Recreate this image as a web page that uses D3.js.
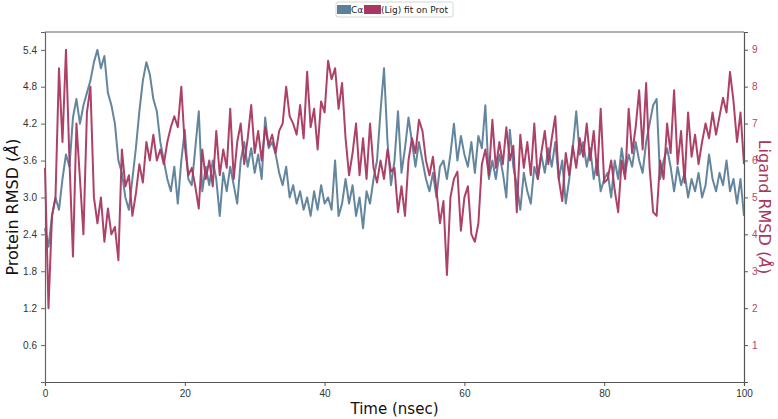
<!DOCTYPE html>
<html>
<head>
<meta charset="utf-8">
<script src="https://cdn.jsdelivr.net/npm/d3@7"></script>
<style>
  html, body { margin: 0; padding: 0; background: #fff; }
  svg { display: block; font-family: "DejaVu Sans", sans-serif; }
</style>
</head>
<body>
<svg id="chart" width="778" height="419"></svg>
<script>
// ── Data (one sample every 0.5 ns) ───────────────────────────────────────────
const timeStep = 0.5;

const proteinRmsd = [
  2.5,2.2,2.7,3.0,2.8,3.3,3.7,3.5,4.3,4.6,4.2,4.5,4.7,4.9,5.2,5.4,5.1,5.3,4.7,4.5,
  4.2,3.6,3.4,3.0,2.8,3.3,3.8,4.4,4.9,5.2,5.0,4.6,4.4,3.9,3.6,3.3,3.1,3.5,2.9,3.6,4.1,
  3.3,3.2,3.8,4.4,3.1,3.5,3.2,3.6,3.3,2.7,3.4,3.1,3.5,3.2,2.9,3.6,3.9,3.5,3.8,3.4,
  3.7,3.3,4.3,3.8,3.9,3.7,3.4,3.2,3.5,3.0,3.2,2.9,3.1,2.8,3.0,2.7,3.1,2.8,3.2,2.9,
  3.0,2.8,3.6,2.7,2.9,3.3,2.9,3.2,2.7,3.0,2.5,3.1,2.9,3.3,3.6,4.4,5.1,3.9,3.2,3.6,
  4.4,3.4,3.8,4.3,3.9,3.5,3.9,3.6,3.3,3.1,3.4,3.0,3.5,3.6,3.3,3.7,4.2,3.6,4.0,3.7,
  3.5,3.9,3.4,4.0,3.8,4.5,3.3,3.6,3.3,3.7,3.4,3.0,4.1,3.5,3.2,2.8,3.4,3.1,2.9,3.5,
  3.3,3.7,3.4,3.8,3.5,3.9,3.3,3.6,2.9,3.3,3.8,4.4,3.7,3.9,3.5,3.8,3.3,3.6,3.1,3.3,
  3.4,3.0,3.6,3.3,3.8,3.4,3.7,3.5,3.9,3.6,3.4,3.9,4.2,4.5,4.6,3.3,3.6,3.8,3.5,3.1,
  3.5,3.2,3.4,3.0,3.3,3.1,3.4,3.0,3.2,3.7,3.3,3.1,3.4,3.2,3.6,3.1,3.3,2.9,3.3,2.7
];

const ligandRmsd = [
  5.8,2.0,4.5,5.0,8.5,6.5,9.0,6.0,3.4,7.0,5.5,4.0,7.3,8.0,5.0,4.3,5.0,3.8,4.7,4.0,
  4.2,3.3,6.3,5.3,5.6,4.5,5.1,5.9,5.4,6.5,6.0,6.7,6.0,6.3,5.9,6.5,6.9,7.2,6.9,8.0,6.4,
  5.6,5.8,5.3,4.7,6.3,5.5,6.0,5.3,6.8,5.6,6.3,5.8,7.4,5.5,6.5,7.0,5.9,6.6,7.5,6.2,
  6.8,6.0,6.9,6.4,6.7,6.2,6.8,7.0,8.0,7.2,7.0,6.7,7.5,6.6,8.4,6.9,7.4,6.3,7.6,7.3,
  8.7,8.2,8.5,7.4,8.1,6.6,5.6,6.2,7.0,5.6,6.6,5.5,7.0,5.8,5.4,6.0,5.5,6.3,5.7,5.8,
  4.6,5.3,4.5,6.0,6.6,6.2,7.1,6.8,6.0,5.6,6.1,5.2,4.3,4.9,2.9,5.0,5.5,5.7,4.1,5.0,
  5.3,4.0,3.8,4.3,5.9,6.3,5.6,7.1,5.8,6.5,5.9,6.9,6.0,6.4,4.6,6.7,5.8,6.5,5.6,7.0,
  5.5,6.2,6.8,5.9,6.6,7.2,5.5,4.9,6.2,5.6,6.4,5.8,6.6,6.1,7.0,6.0,6.8,5.6,7.4,5.4,
  5.5,6.0,5.2,4.6,6.0,5.5,7.4,6.2,6.9,7.9,6.3,8.1,5.8,4.6,4.5,6.0,5.5,7.0,6.2,7.9,
  5.9,6.8,5.4,7.3,6.1,6.7,5.9,6.5,7.0,6.6,7.3,6.7,7.2,7.7,7.3,8.4,7.6,6.5,7.3,5.9
];

const xTicks = [0, 20, 40, 60, 80, 100];
const leftTicks = [0.6, 1.2, 1.8, 2.4, 3.0, 3.6, 4.2, 4.8, 5.4];
const rightTicks = [1, 2, 3, 4, 5, 6, 7, 8, 9];
const legendItems = ['Cα', '(Lig) fit on Prot'];

// ── Layout ───────────────────────────────────────────────────────────────────
const BLUE = '#5b8099', RED = '#a9375f';
const plot = { left: 45, right: 744, top: 32, bottom: 382 };

const svg = d3.select('#chart');

const x  = d3.scaleLinear().domain([0, 100]).range([plot.left, plot.right]);
const yL = d3.scaleLinear().domain([0, 5.69]).range([plot.bottom, plot.top]);
const yR = d3.scaleLinear().domain([0, 9.48]).range([plot.bottom, plot.top]);

// lines
const lineL = d3.line().x((d, i) => x(i * timeStep)).y(d => yL(d));
const lineR = d3.line().x((d, i) => x(i * timeStep)).y(d => yR(d));

svg.append('path').datum(proteinRmsd)
  .attr('d', lineL).attr('fill', 'none')
  .attr('stroke', BLUE).attr('stroke-width', 2).attr('stroke-opacity', 0.95)
  .attr('stroke-linejoin', 'round');

svg.append('path').datum(ligandRmsd)
  .attr('d', lineR).attr('fill', 'none')
  .attr('stroke', RED).attr('stroke-width', 2).attr('stroke-opacity', 0.95)
  .attr('stroke-linejoin', 'round');

// frame (top spine)
svg.append('line')
  .attr('x1', plot.left).attr('x2', plot.right)
  .attr('y1', plot.top).attr('y2', plot.top)
  .attr('stroke', '#666').attr('stroke-width', 1.2);

// axes
function styleAxis(g, color, textColor) {
  g.select('.domain').attr('stroke', color).attr('stroke-width', 1.2);
  g.selectAll('.tick line').attr('stroke', color);
  g.selectAll('.tick text').attr('fill', textColor).style('font-size', '10px');
}

svg.append('g').attr('transform', `translate(0,${plot.bottom})`)
  .call(d3.axisBottom(x).tickValues(xTicks).tickSizeOuter(0).tickSize(4).tickPadding(4))
  .call(g => styleAxis(g, '#555', '#333'));

svg.append('g').attr('transform', `translate(${plot.left},0)`)
  .call(d3.axisLeft(yL).tickValues(leftTicks).tickFormat(d3.format('.1f')).tickSizeOuter(0).tickSize(4).tickPadding(4))
  .call(g => styleAxis(g, '#666', '#333'));

svg.append('g').attr('transform', `translate(${plot.right},0)`)
  .call(d3.axisRight(yR).tickValues(rightTicks).tickSizeOuter(0).tickSize(4).tickPadding(4))
  .call(g => styleAxis(g, '#555', '#b0456c'));

// axis titles
svg.append('text')
  .attr('x', (plot.left + plot.right) / 2).attr('y', 414)
  .attr('text-anchor', 'middle').style('font-size', '15px').attr('fill', '#111')
  .text('Time (nsec)');

const yTitle = svg.append('text')
  .attr('transform', `translate(18,${(plot.top + plot.bottom) / 2}) rotate(-90)`)
  .attr('text-anchor', 'middle').style('font-size', '16px').attr('fill', '#111');
yTitle.append('tspan').text('Protein RMSD (');
yTitle.append('tspan').style('font-style', 'italic').text('Å');
yTitle.append('tspan').text(')');

const rTitle = svg.append('text')
  .attr('transform', `translate(759,${(plot.top + plot.bottom) / 2}) rotate(90)`)
  .attr('text-anchor', 'middle').style('font-size', '16px').attr('fill', RED);
rTitle.append('tspan').text('Ligand RMSD (');
rTitle.append('tspan').style('font-style', 'italic').text('Å');
rTitle.append('tspan').text(')');

// legend
const lg = svg.append('g').attr('transform', 'translate(336,2)');
lg.append('rect').attr('x', 0).attr('y', 0).attr('width', 117).attr('height', 15)
  .attr('rx', 2).attr('fill', '#fff').attr('stroke', '#ccc').attr('stroke-width', 0.8);
lg.append('rect').attr('x', 1).attr('y', 3).attr('width', 14).attr('height', 9).attr('fill', BLUE);
lg.append('text').attr('x', 15).attr('y', 11).style('font-size', '9px').attr('fill', '#222').text(legendItems[0]);
lg.append('rect').attr('x', 28).attr('y', 3).attr('width', 17).attr('height', 9).attr('fill', RED);
lg.append('text').attr('x', 45).attr('y', 11).style('font-size', '9px').attr('fill', '#222').text(legendItems[1]);
</script>
</body>
</html>
